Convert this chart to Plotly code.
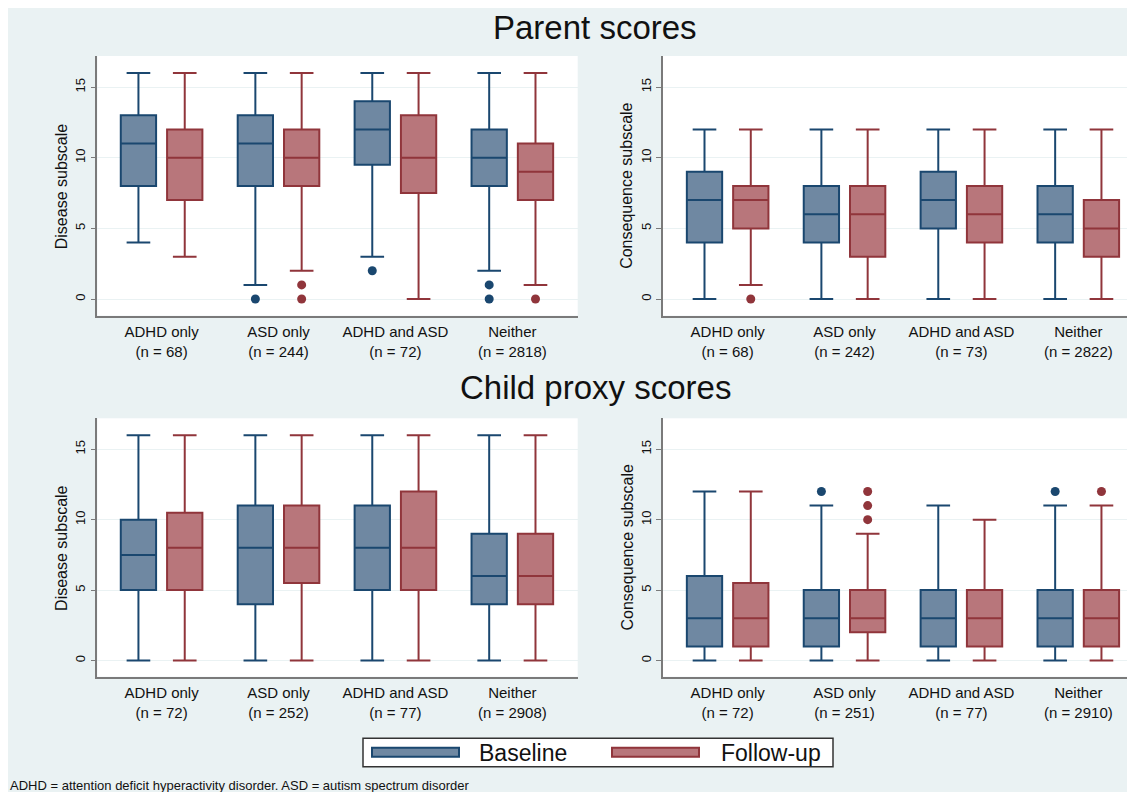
import plotly.graph_objects as go

# page is rendered with an 8px body margin: figure spans page px 8..1135 / 8..792
OFF = 8
W, H = 1135 - OFF, 792 - OFF

categories = ["ADHD only", "ASD only", "ADHD and ASD", "Neither"]
series_names = ["Baseline", "Follow-up"]

# ---------- Parent scores: Disease subscale ----------
pdis_n = [68, 244, 72, 2818]
pdis_b_low = [4, 1, 3, 2]
pdis_b_q1 = [8, 8, 9.5, 8]
pdis_b_med = [11, 11, 12, 10]
pdis_b_q3 = [13, 13, 14, 12]
pdis_b_high = [16, 16, 16, 16]
pdis_b_out = [[], [0], [2], [0, 1]]
pdis_f_low = [3, 2, 0, 1]
pdis_f_q1 = [7, 8, 7.5, 7]
pdis_f_med = [10, 10, 10, 9]
pdis_f_q3 = [12, 12, 13, 11]
pdis_f_high = [16, 16, 16, 16]
pdis_f_out = [[], [0, 1], [], [0]]

# ---------- Parent scores: Consequence subscale ----------
pcon_n = [68, 242, 73, 2822]
pcon_b_low = [0, 0, 0, 0]
pcon_b_q1 = [4, 4, 5, 4]
pcon_b_med = [7, 6, 7, 6]
pcon_b_q3 = [9, 8, 9, 8]
pcon_b_high = [12, 12, 12, 12]
pcon_b_out = [[], [], [], []]
pcon_f_low = [1, 0, 0, 0]
pcon_f_q1 = [5, 3, 4, 3]
pcon_f_med = [7, 6, 6, 5]
pcon_f_q3 = [8, 8, 8, 7]
pcon_f_high = [12, 12, 12, 12]
pcon_f_out = [[0], [], [], []]

# ---------- Child proxy scores: Disease subscale ----------
cdis_n = [72, 252, 77, 2908]
cdis_b_low = [0, 0, 0, 0]
cdis_b_q1 = [5, 4, 5, 4]
cdis_b_med = [7.5, 8, 8, 6]
cdis_b_q3 = [10, 11, 11, 9]
cdis_b_high = [16, 16, 16, 16]
cdis_b_out = [[], [], [], []]
cdis_f_low = [0, 0, 0, 0]
cdis_f_q1 = [5, 5.5, 5, 4]
cdis_f_med = [8, 8, 8, 6]
cdis_f_q3 = [10.5, 11, 12, 9]
cdis_f_high = [16, 16, 16, 16]
cdis_f_out = [[], [], [], []]

# ---------- Child proxy scores: Consequence subscale ----------
ccon_n = [72, 251, 77, 2910]
ccon_b_low = [0, 0, 0, 0]
ccon_b_q1 = [1, 1, 1, 1]
ccon_b_med = [3, 3, 3, 3]
ccon_b_q3 = [6, 5, 5, 5]
ccon_b_high = [12, 11, 11, 11]
ccon_b_out = [[], [12], [], [12]]
ccon_f_low = [0, 0, 0, 0]
ccon_f_q1 = [1, 2, 1, 1]
ccon_f_med = [3, 3, 3, 3]
ccon_f_q3 = [5.5, 5, 5, 5]
ccon_f_high = [12, 9, 10, 11]
ccon_f_out = [[], [10, 11, 12], [], [12]]

ytick_vals = [0, 5, 10, 15]

# ---------- styling ----------
FONT = "Liberation Sans, Arial, sans-serif"
BG = "#EAF2F3"
LINE_COL = ["#1A476F", "#90353B"]
FILL_COL = ["#6F88A2", "#B8767B"]
OFFSETS = [-0.198, 0.198]
BOX_W = 0.302


def px_x(p):
    return (p - OFF) / W


def px_y(p):
    return 1 - (p - OFF) / H


panels = [
    ("", (97.4, 577.7), (56, 315.7), [0.451, 4.559], [-1.18, 17.2], "Disease subscale", pdis_n,
     (pdis_b_low, pdis_b_q1, pdis_b_med, pdis_b_q3, pdis_b_high, pdis_b_out),
     (pdis_f_low, pdis_f_q1, pdis_f_med, pdis_f_q3, pdis_f_high, pdis_f_out)),
    ("2", (663, 1135), (56, 315.7), [0.447, 4.485], [-1.18, 17.2], "Consequence subscale", pcon_n,
     (pcon_b_low, pcon_b_q1, pcon_b_med, pcon_b_q3, pcon_b_high, pcon_b_out),
     (pcon_f_low, pcon_f_q1, pcon_f_med, pcon_f_q3, pcon_f_high, pcon_f_out)),
    ("3", (97.4, 577.7), (418.3, 676.7), [0.451, 4.559], [-1.15, 17.2], "Disease subscale", cdis_n,
     (cdis_b_low, cdis_b_q1, cdis_b_med, cdis_b_q3, cdis_b_high, cdis_b_out),
     (cdis_f_low, cdis_f_q1, cdis_f_med, cdis_f_q3, cdis_f_high, cdis_f_out)),
    ("4", (663, 1135), (418.3, 676.7), [0.447, 4.485], [-1.15, 17.2], "Consequence subscale", ccon_n,
     (ccon_b_low, ccon_b_q1, ccon_b_med, ccon_b_q3, ccon_b_high, ccon_b_out),
     (ccon_f_low, ccon_f_q1, ccon_f_med, ccon_f_q3, ccon_f_high, ccon_f_out)),
]

fig = go.Figure()
annotations = []
layout_axes = {}
cat_pos = [i + 1 for i in range(len(categories))]

for suffix, xd, yd, xr, yr, ytitle, nlist, base, foll in panels:
    xa = "x" + suffix
    ya = "y" + suffix
    for s, stats in enumerate([base, foll]):
        low, q1, med, q3, high, outs = stats
        pos = [c + OFFSETS[s] for c in cat_pos]
        fig.add_trace(go.Box(
            x=pos, q1=q1, median=med, q3=q3, lowerfence=low, upperfence=high,
            width=BOX_W, whiskerwidth=0.67, boxpoints=False,
            fillcolor=FILL_COL[s], line=dict(color=LINE_COL[s], width=2),
            name=series_names[s], showlegend=False, xaxis=xa, yaxis=ya,
        ))
        ox, oy = [], []
        for p, o in zip(pos, outs):
            for v in o:
                ox.append(p)
                oy.append(v)
        if ox:
            fig.add_trace(go.Scatter(
                x=ox, y=oy, mode="markers",
                marker=dict(color=LINE_COL[s], size=9, line=dict(width=0)),
                showlegend=False, xaxis=xa, yaxis=ya, name=series_names[s],
            ))
    ticktext = [f"{c}<br>(n = {n})" for c, n in zip(categories, nlist)]
    layout_axes["xaxis" + suffix] = dict(
        domain=[px_x(xd[0]), min(1.0, px_x(xd[1]))], range=xr, anchor=ya,
        tickvals=cat_pos, ticktext=ticktext, ticks="", showgrid=False,
        zeroline=False, showline=True, linecolor="#7a7a7a", linewidth=1.5,
        tickfont=dict(family=FONT, size=15, color="#111"), ticklabelstandoff=2,
    )
    layout_axes["yaxis" + suffix] = dict(
        domain=[px_y(yd[1]), px_y(yd[0])], range=yr, anchor=xa,
        tickvals=ytick_vals, tickangle=-90, ticks="outside", ticklen=5,
        tickcolor="#7a7a7a", tickwidth=1, showline=True, linecolor="#7a7a7a",
        linewidth=1.5, showgrid=True, gridcolor=BG, gridwidth=1, zeroline=False,
        tickfont=dict(family=FONT, size=13, color="#111"),
    )
    annotations.append(dict(
        text=ytitle, xref="paper", yref="paper", x=px_x(xd[0] - 36),
        y=px_y((yd[0] + yd[1]) / 2), textangle=-90, showarrow=False,
        xanchor="center", yanchor="middle",
        font=dict(family=FONT, size=16, color="#111"),
    ))

annotations.append(dict(text="Parent scores", xref="paper", yref="paper",
                        x=px_x(595), y=px_y(27), showarrow=False,
                        xanchor="center", yanchor="middle",
                        font=dict(family=FONT, size=33, color="#111")))
annotations.append(dict(text="Child proxy scores", xref="paper", yref="paper",
                        x=px_x(595), y=px_y(388), showarrow=False,
                        xanchor="center", yanchor="middle",
                        font=dict(family=FONT, size=33, color="#111")))
annotations.append(dict(
    text="ADHD = attention deficit hyperactivity disorder. ASD = autism spectrum disorder",
    xref="paper", yref="paper", x=0, y=px_y(785),
    showarrow=False, xanchor="left", yanchor="middle",
    font=dict(family=FONT, size=13, color="#111")))

shapes = [
    dict(type="rect", xref="paper", yref="paper", x0=px_x(363), x1=px_x(833),
         y0=px_y(766.7), y1=px_y(738.3), fillcolor="white",
         line=dict(color="#333", width=1.5)),
]
leg_bar_x = [372, 612]
leg_text_x = [477, 719]
for s in range(2):
    shapes.append(dict(type="rect", xref="paper", yref="paper",
                       x0=px_x(leg_bar_x[s]), x1=px_x(leg_bar_x[s] + 87),
                       y0=px_y(756.7), y1=px_y(747.7), fillcolor=FILL_COL[s],
                       line=dict(color=LINE_COL[s], width=2)))
    annotations.append(dict(text=series_names[s], xref="paper", yref="paper",
                            x=px_x(leg_text_x[s]), y=px_y(752.5), showarrow=False,
                            xanchor="left", yanchor="middle",
                            font=dict(family=FONT, size=23, color="#111")))

fig.update_layout(
    width=W, height=H, margin=dict(l=0, r=0, t=0, b=0),
    paper_bgcolor=BG, plot_bgcolor="white", showlegend=False,
    boxmode="overlay", annotations=annotations, shapes=shapes,
    font=dict(family=FONT), **layout_axes,
)

fig.write_html("out.html")
